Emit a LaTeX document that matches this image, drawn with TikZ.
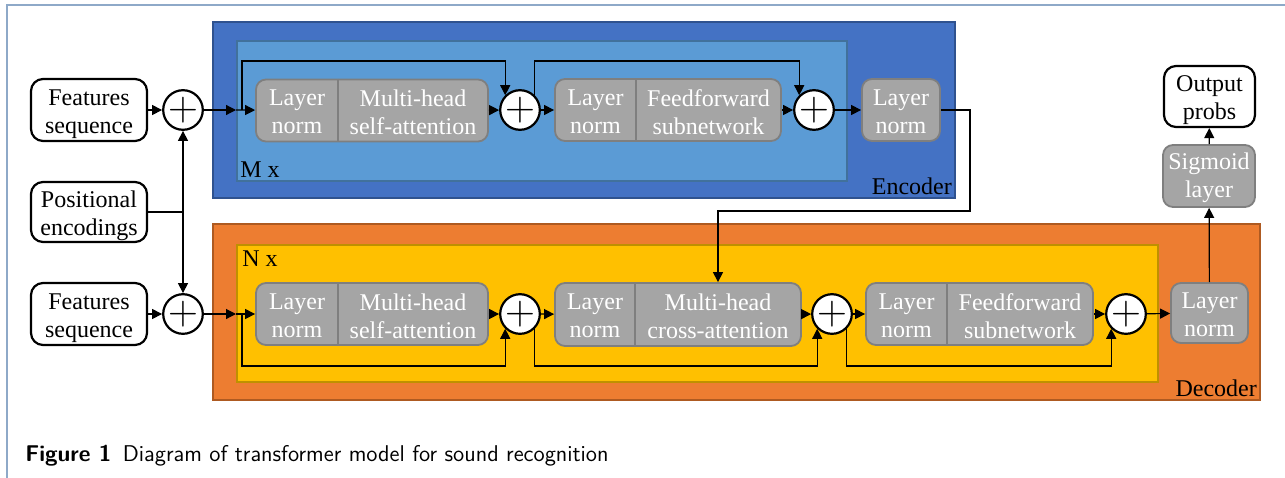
\documentclass[tikz,border=0pt]{standalone}
\usepackage{fontspec}
\setmainfont{Liberation Serif}
\usepackage{tikz}
\usetikzlibrary{positioning,arrows.meta,calc}
\definecolor{encdark}{HTML}{4472C4}
\definecolor{encedge}{HTML}{2F528F}
\definecolor{enclight}{HTML}{5B9BD5}
\definecolor{enclightedge}{HTML}{41719C}
\definecolor{decdark}{HTML}{ED7D31}
\definecolor{decedge}{HTML}{AE5A21}
\definecolor{declight}{HTML}{FFC000}
\definecolor{declightedge}{HTML}{BF9000}
\definecolor{blockgray}{HTML}{A5A5A5}
\definecolor{blockedge}{HTML}{7F7F7F}
\definecolor{framec}{HTML}{8EA9C8}
\tikzset{
  outerbox/.style ={draw=#1, line width=1.2pt, inner sep=0pt},
  innerbox/.style ={draw=#1, line width=1pt, inner sep=0pt},
  iobox/.style    ={rounded corners=6pt, draw=black, fill=white, line width=1.1pt,
                    font=\fontsize{12}{14}\selectfont, align=center, inner sep=0pt},
  graybox/.style  ={rounded corners=5pt, draw=blockedge, fill=blockgray, line width=0.9pt,
                    font=\fontsize{12}{14}\selectfont, text=white, align=center, inner sep=0pt},
  graytxt/.style  ={font=\fontsize{12}{14}\selectfont, text=white, align=center, inner sep=0pt,
                    yshift=-1pt},
  divider/.style  ={draw=blockedge, line width=0.9pt},
  addop/.style    ={circle, draw=black, fill=white, line width=1.1pt, minimum size=18.5pt,
                    inner sep=0pt, font=\fontsize{20}{20}\selectfont},
  boxlbl/.style   ={font=\fontsize{12}{14}\selectfont, inner sep=2pt},
  arr/.style      ={-{Triangle[length=5pt,width=5pt]}, line width=0.6pt},
  wire/.style     ={line width=0.6pt},
}
\newcommand{\lift}[1]{\rule{0pt}{#1}}
\begin{document}
\begin{tikzpicture}[x=0.5pt,y=-0.5pt]
\useasboundingbox (0,0) rectangle (1285,477);
% page frame
\draw[framec, line width=0.7pt] (7,490) -- (7,5) -- (1295,5);
% encoder and decoder frames
\node[outerbox=encedge, fill=encdark, minimum width=371pt, minimum height=88pt] (encout) at (584,110) {};
\node[innerbox=enclightedge, fill=enclight, minimum width=305pt, minimum height=70pt] (encin) at (542,111) {};
\node[outerbox=decedge, fill=decdark, minimum width=523.5pt, minimum height=88pt] (decout) at (736.5,312) {};
\node[innerbox=declightedge, fill=declight, minimum width=460.5pt, minimum height=68.5pt] (decin) at (697.5,313.5) {};
\node[boxlbl, anchor=south west] (mlbl) at (encin.south west) {M x};
\node[boxlbl, anchor=south east] (elbl) at (encout.south east) {Encoder};
\node[boxlbl, anchor=north west, inner sep=3pt] (nlbl) at (decin.north west) {N x};
\node[boxlbl, anchor=south east] (dlbl) at (decout.south east) {Decoder};
% inputs
\node[iobox, minimum width=58pt, minimum height=31pt] (feat1) at (89,110) {\lift{12pt}Features\\sequence};
\node[iobox, minimum width=58pt, minimum height=30pt] (posenc) at (89,212) {\lift{12pt}Positional\\encodings};
\node[iobox, minimum width=58pt, minimum height=31pt] (feat2) at (89,314) {\lift{12pt}Features\\sequence};
\node[addop] (ep0) at (183,110) {$+$};
\node[addop] (dp0) at (183,314) {$+$};
% encoder layer
\node[graybox, minimum width=116pt, minimum height=31pt] (e1) at (372,110.5) {};
\draw[divider] ([xshift=-17pt]e1.north) -- ([xshift=-17pt]e1.south);
\node[graytxt] (e1a) at (297,110) {Layer\\norm};
\node[graytxt] (e1b) at (413,110) {Multi-head\\self-attention};
\node[addop] (ep1) at (520,110) {$+$};
\node[graybox, minimum width=113pt, minimum height=31pt] (e2) at (668,110) {};
\draw[divider] ([xshift=-16pt]e2.north) -- ([xshift=-16pt]e2.south);
\node[graytxt] (e2a) at (595.5,110) {Layer\\norm};
\node[graytxt] (e2b) at (708.5,110) {Feedforward\\subnetwork};
\node[addop] (ep2) at (814,110) {$+$};
\node[graybox, minimum width=39pt, minimum height=31pt] (eln) at (901,110) {\lift{10pt}Layer\\norm};
% decoder layer
\node[graybox, minimum width=116pt, minimum height=31pt] (d1) at (372,314) {};
\draw[divider] ([xshift=-17pt]d1.north) -- ([xshift=-17pt]d1.south);
\node[graytxt] (d1a) at (297,314) {Layer\\norm};
\node[graytxt] (d1b) at (413,314) {Multi-head\\self-attention};
\node[addop] (dp1) at (520,314) {$+$};
\node[graybox, minimum width=123pt, minimum height=31.5pt] (d2) at (678,314.5) {};
\draw[divider] ([xshift=-21.5pt]d2.north) -- ([xshift=-21.5pt]d2.south);
\node[graytxt] (d2a) at (595,314) {Layer\\norm};
\node[graytxt] (d2b) at (718,314) {Multi-head\\cross-attention};
\node[addop] (dp2) at (832,314) {$+$};
\node[graybox, minimum width=113.5pt, minimum height=31pt] (d3) at (979.5,314) {};
\draw[divider] ([xshift=-16.25pt]d3.north) -- ([xshift=-16.25pt]d3.south);
\node[graytxt] (d3a) at (906.5,314) {Layer\\norm};
\node[graytxt] (d3b) at (1020,314) {Feedforward\\subnetwork};
\node[addop] (dp3) at (1126,314) {$+$};
\node[graybox, minimum width=38.5pt, minimum height=30pt] (dln) at (1209.5,313) {\lift{10pt}Layer\\norm};
% output head
\node[graybox, minimum width=46pt, minimum height=31pt] (sig) at (1209,176) {\lift{10pt}Sigmoid\\layer};
\node[iobox, minimum width=45.5pt, minimum height=30.5pt] (outp) at (1209.5,96.5) {\lift{12pt}Output\\probs};
% helper coordinates
\coordinate (pej) at (ep0 |- posenc.east);
\coordinate (etop) at (0,61);
\coordinate (dbot) at (0,366);
\coordinate (et1) at (242,110);
\coordinate (dt1) at (242,314);
\coordinate (xr) at (970,211);
% inputs to the stacks
\draw[arr] (feat1) -- (ep0);
\draw[arr] (feat2) -- (dp0);
\draw[wire] (posenc.east) -- (pej);
\draw[arr] (pej) -- (ep0);
\draw[arr] (pej) -- (dp0);
\draw[arr] (ep0) -- (encin.west |- ep0);
\draw[arr] (encin.west |- ep0) -- (e1);
\draw[arr] (dp0) -- (decin.west |- dp0);
\draw[arr] (decin.west |- dp0) -- (d1);
% encoder flow
\draw[arr] (e1) -- (ep1);
\draw[arr] (ep1) -- (e2);
\draw[arr] (e2) -- (ep2);
\draw[arr] (ep2) -- (eln);
\draw[arr] (et1) |- (ep1.north west |- etop) -- (ep1.north west);
\draw[arr] (ep1.north east) |- (ep2.north west |- etop) -- (ep2.north west);
% decoder flow
\draw[arr] (d1) -- (dp1);
\draw[arr] (dp1) -- (d2);
\draw[arr] (d2) -- (dp2);
\draw[arr] (dp2) -- (d3);
\draw[arr] (d3) -- (dp3);
\draw[arr] (dp3) -- (dln);
\draw[arr] (dt1) |- (dp1.south west |- dbot) -- (dp1.south west);
\draw[arr] (dp1.south east) |- (dp2.south west |- dbot) -- (dp2.south west);
\draw[arr] (dp2.south east) |- (dp3.south west |- dbot) -- (dp3.south west);
% encoder output into cross-attention
\draw[arr] (eln.east) -| (xr) -| (d2b |- d2.north);
% output head
\draw[arr] (dln) -- (sig);
\draw[arr] (sig) -- (outp);
% caption
\node[anchor=west, inner sep=0pt, font=\sffamily\fontsize{11.4}{13}\selectfont] (cap) at (25,456)
  {\textbf{Figure 1}\enspace Diagram of transformer model for sound recognition};
\end{tikzpicture}
\end{document}
